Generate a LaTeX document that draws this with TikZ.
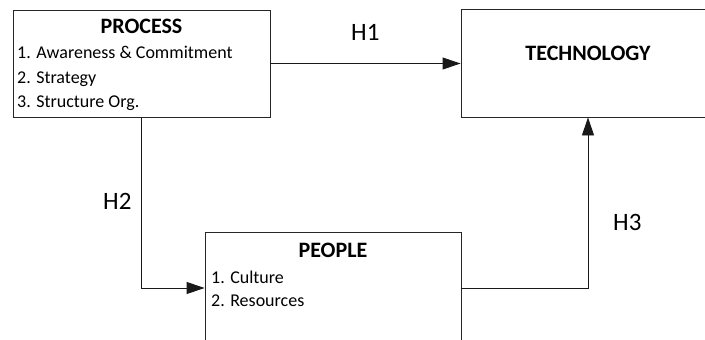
\documentclass[tikz,border=0pt]{standalone}
\usepackage{fontspec}
\setmainfont{Carlito}
\usepackage{tikz}
\usetikzlibrary{positioning,arrows.meta}

\tikzset{
  blockbox/.style={draw=black!85,line width=0.9pt,rectangle,inner sep=0pt},
  boxtext/.style={inner sep=0pt,font=\fontsize{18}{22}\selectfont},
  boxtitle/.style={inner sep=0pt,font=\fontsize{22}{26}\selectfont\bfseries},
  hlabel/.style={inner sep=0pt,font=\fontsize{25}{30}\selectfont},
  hlink/.style={draw=black!90,line width=0.9pt,-{Triangle[length=18pt,width=12pt]}}
}

\begin{document}
\begin{tikzpicture}[x=1pt,y=1pt,yscale=-1,xscale=1]
\useasboundingbox (0,0) rectangle (705,340);
\clip (0,0) rectangle (705,340);

%Shape: Rectangle [id:process]
\node[blockbox,minimum width=257pt,minimum height=107pt] (process) at (141.5,63.5) {};
%Shape: Rectangle [id:tech]
\node[blockbox,minimum width=254pt,minimum height=108pt] (tech) at (588,63) {};
%Shape: Rectangle [id:people]
\node[blockbox,minimum width=256pt,minimum height=112pt] (people) at (333,288) {};

% Text Node
\node[boxtitle,anchor=base] (processtitle) at (141.5,33) {PROCESS};
% Text Node
\node[boxtext,anchor=base west] (proc1) at (17,58) {1. Awareness \& Commitment};
% Text Node
\node[boxtext,anchor=base west] (proc2) at (17,83) {2. Strategy};
% Text Node
\node[boxtext,anchor=base west] (proc3) at (17,107) {3. Structure Org.};
% Text Node
\node[boxtitle,anchor=base] (techtitle) at (588,60) {TECHNOLOGY};
% Text Node
\node[boxtitle,anchor=base] (peopletitle) at (333,257) {PEOPLE};
% Text Node
\node[boxtext,anchor=base west] (people1) at (211,283) {1. Culture};
% Text Node
\node[boxtext,anchor=base west] (people2) at (211,306) {2. Resources};

%Connectors
\draw[hlink] (process.east) -- (process.east -| tech.west);
\draw[hlink] (process.south) |- (people.west);
\draw[hlink] (people.east) -| (tech.south);

% Text Node
\node[hlabel,anchor=base west] (h1) at (351,40) {H1};
% Text Node
\node[hlabel,anchor=base west] (h2) at (103,209) {H2};
% Text Node
\node[hlabel,anchor=base west] (h3) at (613,230) {H3};
\end{tikzpicture}
\end{document}
